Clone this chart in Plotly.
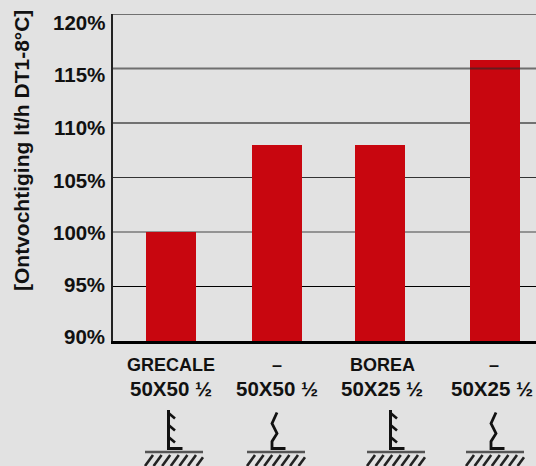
import plotly.graph_objects as go

names = ["GRECALE", "–", "BOREA", "–"]
sizes = ["50X50 ½", "50X50 ½", "50X25 ½", "50X25 ½"]
values = [100, 108, 108, 115.8]
bar_pos = [1.0, 2.06, 3.09, 4.24]
name_pos = [1.0, 2.055, 3.11, 4.23]
size_pos = [1.0, 2.055, 3.11, 4.21]
y_ticks = [90, 95, 100, 105, 110, 115, 120]
y_labels = ["90%", "95%", "100%", "105%", "110%", "115%", "120%"]

W, H = 536, 466
L, T, B = 113, 14, 341
X0, X1 = 0.42, 4.65
BG = "#e2e2e2"
FONT = "Liberation Sans"
INK = "#111111"


def px(x):
    return (x - L) / (W - L)


def py(y):
    return (B - y) / (B - T)


def path(points):
    return "M " + " L ".join(f"{px(x):.5f},{py(y):.5f}" for x, y in points)


def stroke(points, width=2.6, color=INK):
    return dict(type="path", xref="paper", yref="paper", path=path(points),
                line=dict(color=color, width=width), layer="above")


def ground(left):
    out = [stroke([(left, 452), (left + 58, 452)], 2.6, "#555555")]
    for k in range(7):
        x = left + k * 8.6
        x_end = min(x + 8, left + 58)
        y_end = 466 - (x_end - x) * 11 / 8
        out.append(stroke([(x, 466), (x_end, y_end)], 2.6, "#222222"))
    return out


def toothed(x):
    out = [stroke([(x, 410), (x, 448.5), (x + 14, 448.5)], 3)]
    for y in (413, 425, 437):
        out.append(stroke([(x, y), (x + 6.5, y + 5.5)], 2.6))
    return out


def wavy(x):
    pts = [(x + 5, 412.5), (x, 423.5), (x + 5, 433.5), (x, 441.5),
           (x, 448.5), (x + 13.5, 448.5)]
    return [stroke(pts, 2.8)]


fig = go.Figure(go.Bar(x=bar_pos, y=values, width=0.5,
                       marker=dict(color="#c8060f", line=dict(width=0))))

shapes = []
grid_style = {
    115: dict(color="rgba(40,40,40,0.62)", width=2),
    105: dict(color="#333333", width=1.2),
    100: dict(color="#444444", width=1.2),
}
for v in y_ticks:
    if v == 90:
        continue
    style = grid_style.get(v, dict(color="#000000", width=1.1))
    shapes.append(dict(type="line", xref="paper", yref="y", x0=0, x1=1, y0=v, y1=v,
                       line=style, layer="above" if v == 115 else "below"))
for left in (145, 247, 367, 466):
    shapes += ground(left)
shapes += toothed(168.5) + wavy(272) + toothed(390.5) + wavy(491)

annotations = []
for p, n in zip(name_pos, names):
    annotations.append(dict(x=p, xref="x", y=py(365), yref="paper", yanchor="middle",
                            text=f"<b>{n}</b>", showarrow=False,
                            font=dict(family=FONT, size=18, color=INK)))
for p, s in zip(size_pos, sizes):
    annotations.append(dict(x=p, xref="x", y=py(388), yref="paper", yanchor="middle",
                            text=f"<b>{s}</b>", showarrow=False,
                            font=dict(family=FONT, size=20.5, color=INK)))
# the reference's percentage labels drift away from their grid lines
for label, label_y in zip(y_labels, (336, 284, 232, 180, 127, 74, 22)):
    annotations.append(dict(x=px(107), xref="paper", xanchor="right", y=py(label_y), yref="paper",
                            yanchor="middle", text=f"<b>{label}</b>", showarrow=False,
                            font=dict(family=FONT, size=20.5, color=INK)))
annotations.append(dict(x=px(21), xref="paper", y=py(151), yref="paper", xanchor="center", yanchor="middle",
                        text="<b>[Ontvochtiging lt/h DT1-8°C]</b>", textangle=-90, showarrow=False,
                        font=dict(family=FONT, size=21, color=INK)))

fig.update_layout(
    width=W, height=H,
    margin=dict(l=L, r=0, t=T, b=H - B, pad=0),
    paper_bgcolor=BG, plot_bgcolor=BG,
    showlegend=False,
    shapes=shapes,
    annotations=annotations,
    font=dict(family=FONT, color=INK),
    xaxis=dict(range=[X0, X1], showgrid=False, showticklabels=False, ticks="",
               showline=True, linecolor="#000000", linewidth=2.5, zeroline=False),
    yaxis=dict(range=[90, 120], tickvals=y_ticks, showticklabels=False, ticks="",
               showgrid=False,
               showline=True, linecolor="#222222", linewidth=2, zeroline=False),
    bargap=0,
)
fig.write_html("out.html", config={"displayModeBar": False},
               post_script="document.body.style.margin='0';document.body.style.overflow='hidden';")
